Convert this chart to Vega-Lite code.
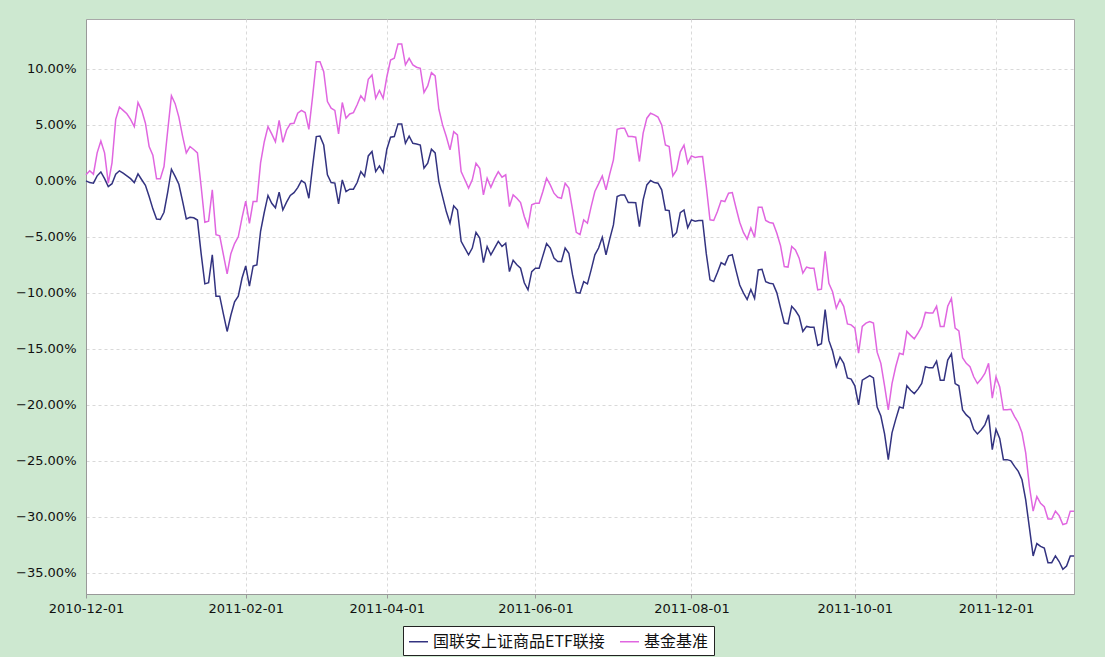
{
"$schema": "https://vega.github.io/schema/vega-lite/v6.json",
"width": 988,
"height": 575,
"autosize": {"type": "none"},
"padding": {"left": 86, "top": 19, "right": 31, "bottom": 63},
"background": "#cde8d0",
"config": {"view": {"fill": "white", "stroke": "#a8a8a8"}, "font": "DejaVu Sans"},
"data": {"values": [
{"d":"2010-12-01","fund":0.00,"bench":0.54},
{"d":"2010-12-02","fund":-0.15,"bench":0.90},
{"d":"2010-12-03","fund":-0.20,"bench":0.60},
{"d":"2010-12-06","fund":0.45,"bench":2.50},
{"d":"2010-12-07","fund":0.80,"bench":3.57},
{"d":"2010-12-08","fund":0.20,"bench":2.50},
{"d":"2010-12-09","fund":-0.50,"bench":-0.20},
{"d":"2010-12-10","fund":-0.25,"bench":1.60},
{"d":"2010-12-13","fund":0.60,"bench":5.50},
{"d":"2010-12-14","fund":0.90,"bench":6.60},
{"d":"2010-12-15","fund":0.70,"bench":6.30},
{"d":"2010-12-16","fund":0.45,"bench":6.00},
{"d":"2010-12-17","fund":0.20,"bench":5.50},
{"d":"2010-12-20","fund":-0.15,"bench":4.85},
{"d":"2010-12-21","fund":0.62,"bench":7.00},
{"d":"2010-12-22","fund":0.10,"bench":6.30},
{"d":"2010-12-23","fund":-0.40,"bench":5.15},
{"d":"2010-12-24","fund":-1.40,"bench":3.07},
{"d":"2010-12-27","fund":-2.50,"bench":2.30},
{"d":"2010-12-28","fund":-3.40,"bench":0.18},
{"d":"2010-12-29","fund":-3.45,"bench":0.18},
{"d":"2010-12-30","fund":-2.80,"bench":1.28},
{"d":"2010-12-31","fund":-1.00,"bench":4.50},
{"d":"2011-01-04","fund":1.04,"bench":7.60},
{"d":"2011-01-05","fund":0.40,"bench":6.90},
{"d":"2011-01-06","fund":-0.30,"bench":5.70},
{"d":"2011-01-07","fund":-1.80,"bench":4.00},
{"d":"2011-01-10","fund":-3.40,"bench":2.50},
{"d":"2011-01-11","fund":-3.25,"bench":3.07},
{"d":"2011-01-12","fund":-3.30,"bench":2.80},
{"d":"2011-01-13","fund":-3.50,"bench":2.50},
{"d":"2011-01-14","fund":-6.50,"bench":-0.50},
{"d":"2011-01-17","fund":-9.20,"bench":-3.70},
{"d":"2011-01-18","fund":-9.10,"bench":-3.60},
{"d":"2011-01-19","fund":-6.60,"bench":-0.80},
{"d":"2011-01-20","fund":-10.30,"bench":-4.80},
{"d":"2011-01-21","fund":-10.30,"bench":-4.90},
{"d":"2011-01-24","fund":-11.90,"bench":-6.60},
{"d":"2011-01-25","fund":-13.45,"bench":-8.30},
{"d":"2011-01-26","fund":-12.00,"bench":-6.50},
{"d":"2011-01-27","fund":-10.80,"bench":-5.60},
{"d":"2011-01-28","fund":-10.30,"bench":-5.00},
{"d":"2011-01-31","fund":-8.70,"bench":-3.30},
{"d":"2011-02-01","fund":-7.60,"bench":-1.80},
{"d":"2011-02-09","fund":-9.40,"bench":-3.80},
{"d":"2011-02-10","fund":-7.60,"bench":-1.85},
{"d":"2011-02-11","fund":-7.50,"bench":-1.85},
{"d":"2011-02-14","fund":-4.50,"bench":1.60},
{"d":"2011-02-15","fund":-2.80,"bench":3.50},
{"d":"2011-02-16","fund":-1.30,"bench":4.85},
{"d":"2011-02-17","fund":-2.00,"bench":4.20},
{"d":"2011-02-18","fund":-2.40,"bench":3.50},
{"d":"2011-02-21","fund":-1.00,"bench":5.40},
{"d":"2011-02-22","fund":-2.60,"bench":3.45},
{"d":"2011-02-23","fund":-1.90,"bench":4.55},
{"d":"2011-02-24","fund":-1.30,"bench":5.10},
{"d":"2011-02-25","fund":-1.05,"bench":5.15},
{"d":"2011-02-28","fund":-0.60,"bench":6.04},
{"d":"2011-03-01","fund":0.03,"bench":6.30},
{"d":"2011-03-02","fund":-0.20,"bench":6.10},
{"d":"2011-03-03","fund":-1.55,"bench":4.60},
{"d":"2011-03-04","fund":1.28,"bench":7.50},
{"d":"2011-03-07","fund":3.96,"bench":10.65},
{"d":"2011-03-08","fund":4.00,"bench":10.65},
{"d":"2011-03-09","fund":3.20,"bench":9.76},
{"d":"2011-03-10","fund":0.54,"bench":7.08},
{"d":"2011-03-11","fund":-0.15,"bench":6.50},
{"d":"2011-03-14","fund":-0.20,"bench":6.30},
{"d":"2011-03-15","fund":-2.05,"bench":4.20},
{"d":"2011-03-16","fund":0.09,"bench":7.00},
{"d":"2011-03-17","fund":-0.95,"bench":5.60},
{"d":"2011-03-18","fund":-0.74,"bench":5.98},
{"d":"2011-03-21","fund":-0.74,"bench":6.10},
{"d":"2011-03-22","fund":-0.15,"bench":6.80},
{"d":"2011-03-23","fund":0.83,"bench":7.60},
{"d":"2011-03-24","fund":0.39,"bench":7.17},
{"d":"2011-03-25","fund":2.23,"bench":9.08},
{"d":"2011-03-28","fund":2.62,"bench":9.46},
{"d":"2011-03-29","fund":0.83,"bench":7.38},
{"d":"2011-03-30","fund":1.34,"bench":8.07},
{"d":"2011-03-31","fund":0.74,"bench":7.38},
{"d":"2011-04-01","fund":2.83,"bench":9.30},
{"d":"2011-04-06","fund":3.90,"bench":10.80},
{"d":"2011-04-07","fund":3.96,"bench":10.95},
{"d":"2011-04-08","fund":5.09,"bench":12.23},
{"d":"2011-04-11","fund":5.09,"bench":12.23},
{"d":"2011-04-12","fund":3.36,"bench":10.36},
{"d":"2011-04-13","fund":4.00,"bench":10.95},
{"d":"2011-04-14","fund":3.36,"bench":10.36},
{"d":"2011-04-15","fund":3.30,"bench":10.15},
{"d":"2011-04-18","fund":3.20,"bench":10.06},
{"d":"2011-04-19","fund":1.13,"bench":7.90},
{"d":"2011-04-20","fund":1.58,"bench":8.48},
{"d":"2011-04-21","fund":2.83,"bench":9.67},
{"d":"2011-04-22","fund":2.50,"bench":9.37},
{"d":"2011-04-25","fund":-0.06,"bench":6.40},
{"d":"2011-04-26","fund":-1.40,"bench":5.00},
{"d":"2011-04-27","fund":-2.74,"bench":3.96},
{"d":"2011-04-28","fund":-3.78,"bench":2.77},
{"d":"2011-04-29","fund":-2.23,"bench":4.40},
{"d":"2011-05-03","fund":-2.60,"bench":4.10},
{"d":"2011-05-04","fund":-5.40,"bench":0.83},
{"d":"2011-05-05","fund":-6.00,"bench":0.10},
{"d":"2011-05-06","fund":-6.60,"bench":-0.65},
{"d":"2011-05-09","fund":-6.00,"bench":0.09},
{"d":"2011-05-10","fund":-4.60,"bench":1.58},
{"d":"2011-05-11","fund":-5.10,"bench":1.13},
{"d":"2011-05-12","fund":-7.30,"bench":-1.25},
{"d":"2011-05-13","fund":-5.86,"bench":0.24},
{"d":"2011-05-16","fund":-6.60,"bench":-0.57},
{"d":"2011-05-17","fund":-6.00,"bench":0.20},
{"d":"2011-05-18","fund":-5.40,"bench":0.83},
{"d":"2011-05-19","fund":-5.86,"bench":0.33},
{"d":"2011-05-20","fund":-5.57,"bench":0.54},
{"d":"2011-05-23","fund":-8.10,"bench":-2.30},
{"d":"2011-05-24","fund":-7.10,"bench":-1.25},
{"d":"2011-05-25","fund":-7.50,"bench":-1.55},
{"d":"2011-05-26","fund":-7.80,"bench":-1.93},
{"d":"2011-05-27","fund":-9.10,"bench":-3.18},
{"d":"2011-05-30","fund":-9.73,"bench":-4.08},
{"d":"2011-05-31","fund":-8.10,"bench":-2.14},
{"d":"2011-06-01","fund":-7.80,"bench":-2.00},
{"d":"2011-06-02","fund":-7.80,"bench":-2.00},
{"d":"2011-06-03","fund":-6.70,"bench":-0.95},
{"d":"2011-06-07","fund":-5.60,"bench":0.24},
{"d":"2011-06-08","fund":-6.00,"bench":-0.36},
{"d":"2011-06-09","fund":-6.90,"bench":-1.10},
{"d":"2011-06-10","fund":-7.20,"bench":-1.46},
{"d":"2011-06-13","fund":-7.20,"bench":-1.55},
{"d":"2011-06-14","fund":-6.00,"bench":-0.21},
{"d":"2011-06-15","fund":-6.46,"bench":-0.65},
{"d":"2011-06-16","fund":-8.40,"bench":-2.60},
{"d":"2011-06-17","fund":-9.97,"bench":-4.60},
{"d":"2011-06-20","fund":-10.03,"bench":-4.80},
{"d":"2011-06-21","fund":-9.00,"bench":-3.48},
{"d":"2011-06-22","fund":-9.20,"bench":-3.78},
{"d":"2011-06-23","fund":-7.95,"bench":-2.30},
{"d":"2011-06-24","fund":-6.60,"bench":-0.95},
{"d":"2011-06-27","fund":-6.00,"bench":-0.27},
{"d":"2011-06-28","fund":-5.03,"bench":0.45},
{"d":"2011-06-29","fund":-6.60,"bench":-0.80},
{"d":"2011-06-30","fund":-5.20,"bench":0.60},
{"d":"2011-07-01","fund":-3.93,"bench":1.88},
{"d":"2011-07-04","fund":-1.40,"bench":4.60},
{"d":"2011-07-05","fund":-1.25,"bench":4.70},
{"d":"2011-07-06","fund":-1.25,"bench":4.70},
{"d":"2011-07-07","fund":-1.93,"bench":3.96},
{"d":"2011-07-08","fund":-1.93,"bench":3.96},
{"d":"2011-07-11","fund":-1.95,"bench":3.90},
{"d":"2011-07-12","fund":-4.08,"bench":1.73},
{"d":"2011-07-13","fund":-1.70,"bench":4.26},
{"d":"2011-07-14","fund":-0.36,"bench":5.60},
{"d":"2011-07-15","fund":0.03,"bench":6.04},
{"d":"2011-07-18","fund":-0.15,"bench":5.90},
{"d":"2011-07-19","fund":-0.21,"bench":5.70},
{"d":"2011-07-20","fund":-0.80,"bench":5.00},
{"d":"2011-07-21","fund":-2.60,"bench":3.20},
{"d":"2011-07-22","fund":-2.65,"bench":3.07},
{"d":"2011-07-25","fund":-4.97,"bench":0.45},
{"d":"2011-07-26","fund":-4.60,"bench":0.98},
{"d":"2011-07-27","fund":-2.83,"bench":2.60},
{"d":"2011-07-28","fund":-2.60,"bench":3.20},
{"d":"2011-07-29","fund":-4.17,"bench":1.58},
{"d":"2011-08-01","fund":-3.48,"bench":2.23},
{"d":"2011-08-02","fund":-3.60,"bench":2.10},
{"d":"2011-08-03","fund":-3.54,"bench":2.15},
{"d":"2011-08-04","fund":-3.54,"bench":2.17},
{"d":"2011-08-05","fund":-6.50,"bench":-0.50},
{"d":"2011-08-08","fund":-8.84,"bench":-3.48},
{"d":"2011-08-09","fund":-8.99,"bench":-3.54},
{"d":"2011-08-10","fund":-8.18,"bench":-2.74},
{"d":"2011-08-11","fund":-7.30,"bench":-1.76},
{"d":"2011-08-12","fund":-7.50,"bench":-1.85},
{"d":"2011-08-15","fund":-6.70,"bench":-1.10},
{"d":"2011-08-16","fund":-6.60,"bench":-1.04},
{"d":"2011-08-17","fund":-8.00,"bench":-2.40},
{"d":"2011-08-18","fund":-9.30,"bench":-3.70},
{"d":"2011-08-19","fund":-10.00,"bench":-4.60},
{"d":"2011-08-22","fund":-10.60,"bench":-5.20},
{"d":"2011-08-23","fund":-9.70,"bench":-4.20},
{"d":"2011-08-24","fund":-10.50,"bench":-5.03},
{"d":"2011-08-25","fund":-7.95,"bench":-2.35},
{"d":"2011-08-26","fund":-7.90,"bench":-2.35},
{"d":"2011-08-29","fund":-9.00,"bench":-3.54},
{"d":"2011-08-30","fund":-9.14,"bench":-3.72},
{"d":"2011-08-31","fund":-9.20,"bench":-3.78},
{"d":"2011-09-01","fund":-10.00,"bench":-4.67},
{"d":"2011-09-02","fund":-11.37,"bench":-5.80},
{"d":"2011-09-05","fund":-12.70,"bench":-7.65},
{"d":"2011-09-06","fund":-12.77,"bench":-7.70},
{"d":"2011-09-07","fund":-11.20,"bench":-5.86},
{"d":"2011-09-08","fund":-11.58,"bench":-6.16},
{"d":"2011-09-09","fund":-12.10,"bench":-6.90},
{"d":"2011-09-13","fund":-13.45,"bench":-8.24},
{"d":"2011-09-14","fund":-13.00,"bench":-7.70},
{"d":"2011-09-15","fund":-13.07,"bench":-7.80},
{"d":"2011-09-16","fund":-13.07,"bench":-7.80},
{"d":"2011-09-19","fund":-14.70,"bench":-9.73},
{"d":"2011-09-20","fund":-14.55,"bench":-9.67},
{"d":"2011-09-21","fund":-11.50,"bench":-6.30},
{"d":"2011-09-22","fund":-14.25,"bench":-9.14},
{"d":"2011-09-23","fund":-15.20,"bench":-9.90},
{"d":"2011-09-26","fund":-16.60,"bench":-11.37},
{"d":"2011-09-27","fund":-15.74,"bench":-10.60},
{"d":"2011-09-28","fund":-16.30,"bench":-11.20},
{"d":"2011-09-29","fund":-17.60,"bench":-12.77},
{"d":"2011-09-30","fund":-17.70,"bench":-12.86},
{"d":"2011-10-10","fund":-18.30,"bench":-13.15},
{"d":"2011-10-11","fund":-20.00,"bench":-15.39},
{"d":"2011-10-12","fund":-17.80,"bench":-13.00},
{"d":"2011-10-13","fund":-17.60,"bench":-12.70},
{"d":"2011-10-14","fund":-17.40,"bench":-12.56},
{"d":"2011-10-17","fund":-17.60,"bench":-12.70},
{"d":"2011-10-18","fund":-20.20,"bench":-15.30},
{"d":"2011-10-19","fund":-21.00,"bench":-16.30},
{"d":"2011-10-20","fund":-22.60,"bench":-18.30},
{"d":"2011-10-21","fund":-24.90,"bench":-20.45},
{"d":"2011-10-24","fund":-22.50,"bench":-18.10},
{"d":"2011-10-25","fund":-21.30,"bench":-16.60},
{"d":"2011-10-26","fund":-20.20,"bench":-15.40},
{"d":"2011-10-27","fund":-20.30,"bench":-15.50},
{"d":"2011-10-28","fund":-18.30,"bench":-13.45},
{"d":"2011-10-31","fund":-18.70,"bench":-13.80},
{"d":"2011-11-01","fund":-19.00,"bench":-14.10},
{"d":"2011-11-02","fund":-18.60,"bench":-13.60},
{"d":"2011-11-03","fund":-18.10,"bench":-13.00},
{"d":"2011-11-04","fund":-16.60,"bench":-11.75},
{"d":"2011-11-07","fund":-16.70,"bench":-11.80},
{"d":"2011-11-08","fund":-16.70,"bench":-11.80},
{"d":"2011-11-09","fund":-16.10,"bench":-11.20},
{"d":"2011-11-10","fund":-17.80,"bench":-13.00},
{"d":"2011-11-11","fund":-17.80,"bench":-13.00},
{"d":"2011-11-14","fund":-16.00,"bench":-11.20},
{"d":"2011-11-15","fund":-15.45,"bench":-10.50},
{"d":"2011-11-16","fund":-18.10,"bench":-13.15},
{"d":"2011-11-17","fund":-18.30,"bench":-13.40},
{"d":"2011-11-18","fund":-20.45,"bench":-15.80},
{"d":"2011-11-21","fund":-20.90,"bench":-16.30},
{"d":"2011-11-22","fund":-21.20,"bench":-16.60},
{"d":"2011-11-23","fund":-22.20,"bench":-17.50},
{"d":"2011-11-24","fund":-22.60,"bench":-18.10},
{"d":"2011-11-25","fund":-22.25,"bench":-17.70},
{"d":"2011-11-28","fund":-21.80,"bench":-17.20},
{"d":"2011-11-29","fund":-20.90,"bench":-16.30},
{"d":"2011-11-30","fund":-24.00,"bench":-19.40},
{"d":"2011-12-01","fund":-22.20,"bench":-17.50},
{"d":"2011-12-02","fund":-23.00,"bench":-18.40},
{"d":"2011-12-05","fund":-24.90,"bench":-20.45},
{"d":"2011-12-06","fund":-24.90,"bench":-20.45},
{"d":"2011-12-07","fund":-25.00,"bench":-20.40},
{"d":"2011-12-08","fund":-25.50,"bench":-21.05},
{"d":"2011-12-09","fund":-25.95,"bench":-21.60},
{"d":"2011-12-12","fund":-26.70,"bench":-22.50},
{"d":"2011-12-13","fund":-28.50,"bench":-24.30},
{"d":"2011-12-14","fund":-31.00,"bench":-27.30},
{"d":"2011-12-15","fund":-33.50,"bench":-29.50},
{"d":"2011-12-16","fund":-32.40,"bench":-28.20},
{"d":"2011-12-19","fund":-32.65,"bench":-28.80},
{"d":"2011-12-20","fund":-32.80,"bench":-29.10},
{"d":"2011-12-21","fund":-34.10,"bench":-30.20},
{"d":"2011-12-22","fund":-34.10,"bench":-30.20},
{"d":"2011-12-23","fund":-33.50,"bench":-29.50},
{"d":"2011-12-26","fund":-34.00,"bench":-29.90},
{"d":"2011-12-27","fund":-34.70,"bench":-30.70},
{"d":"2011-12-28","fund":-34.40,"bench":-30.60},
{"d":"2011-12-29","fund":-33.50,"bench":-29.50},
{"d":"2011-12-30","fund":-33.50,"bench":-29.50}
]},
"transform": [{"fold": ["fund", "bench"], "as": ["series", "value"]}],
"mark": {"type": "line", "strokeWidth": 1.5},
"encoding": {
  "x": {
    "field": "d", "type": "ordinal", "sort": "ascending",
    "scale": {"type": "point", "padding": 0},
    "axis": {
      "title": null,
      "values": ["2010-12-01", "2011-02-01", "2011-04-01", "2011-06-01", "2011-08-01", "2011-10-10", "2011-12-01"],
      "labelExpr": "datum.value == '2011-10-10' ? '2011-10-01' : datum.value",
      "labelAngle": 0, "labelFont": "DejaVu Sans", "labelFontSize": 13, "labelColor": "#111",
      "grid": true, "gridDash": [3, 3], "gridColor": "#d9d9d9",
      "domainColor": "#999999", "tickColor": "#999999", "tickSize": 4, "labelPadding": 4
    }
  },
  "y": {
    "field": "value", "type": "quantitative",
    "scale": {"domain": [-36.9, 14.46], "nice": false, "zero": false},
    "axis": {
      "title": null,
      "values": [10, 5, 0, -5, -10, -15, -20, -25, -30, -35],
      "labelExpr": "format(datum.value, '.2f') + '%'",
      "labelFont": "DejaVu Sans", "labelFontSize": 13, "labelColor": "#111",
      "grid": true, "gridDash": [3, 3], "gridColor": "#d9d9d9",
      "ticks": false, "labelPadding": 10, "domainColor": "#999999"
    }
  },
  "color": {
    "field": "series", "type": "nominal",
    "scale": {"domain": ["fund", "bench"], "range": ["#333380", "#e066e0"]},
    "legend": {
      "title": null, "orient": "none", "legendX": 317, "legendY": 607, "direction": "horizontal",
      "labelExpr": "datum.value == 'fund' ? '国联安上证商品ETF联接' : '基金基准'",
      "symbolType": "stroke", "symbolSize": 361, "symbolStrokeWidth": 1.5,
      "labelFont": "Noto Sans CJK SC", "labelFontSize": 16, "labelColor": "#111", "labelLimit": 400,
      "fillColor": "white", "strokeColor": "#222222", "padding": 5, "columnPadding": 12, "labelOffset": 4
    }
  }
}
}
